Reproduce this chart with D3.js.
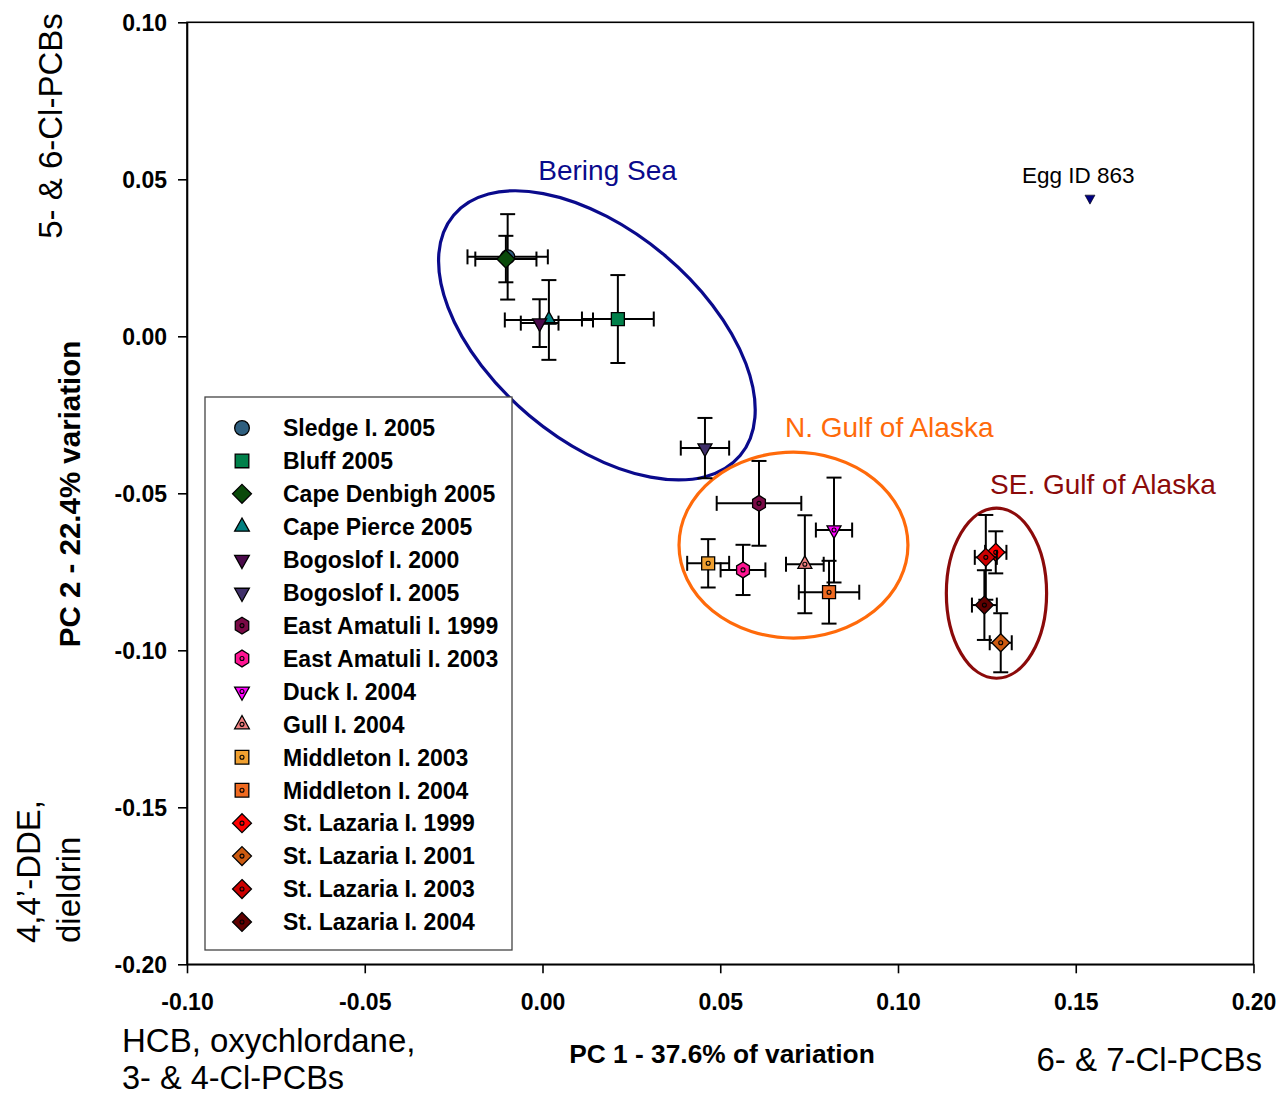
<!DOCTYPE html>
<html>
<head>
<meta charset="utf-8">
<script src="https://cdn.jsdelivr.net/npm/d3@7"></script>
<style>
  html, body { margin: 0; padding: 0; background: #fff; }
  svg { display: block; font-family: "Liberation Sans", Arial, sans-serif; }
</style>
</head>
<body>
<svg id="chart" width="1283" height="1097"></svg>
<script>
// ---- data: PCA scores (mean ± SE) per colony and year ----
const siteNames = [
  "Sledge I. 2005", "Bluff 2005", "Cape Denbigh 2005", "Cape Pierce 2005",
  "Bogoslof I. 2000", "Bogoslof I. 2005", "East Amatuli I. 1999", "East Amatuli I. 2003",
  "Duck I. 2004", "Gull I. 2004", "Middleton I. 2003", "Middleton I. 2004",
  "St. Lazaria I. 1999", "St. Lazaria I. 2001", "St. Lazaria I. 2003", "St. Lazaria I. 2004"
];
const pc1Mean = [-0.0098, 0.0212, -0.0103, 0.0018, -0.0008, 0.0457, 0.0609, 0.0564,
                 0.0820, 0.0738, 0.0466, 0.0806, 0.1275, 0.1289, 0.1247, 0.1243];
const pc2Mean = [0.0253, 0.0055, 0.0246, 0.0052, 0.0042, -0.0356, -0.0532, -0.0744,
                 -0.0617, -0.0726, -0.0723, -0.0815, -0.0688, -0.0976, -0.0704, -0.0856];
const pc1Err  = [0.0113, 0.0101, 0.0086, 0.0124, 0.0053, 0.0068, 0.0119, 0.0063,
                 0.0051, 0.0053, 0.0059, 0.0085, 0.0030, 0.0031, 0.0031, 0.0035];
const pc2Err  = [0.0136, 0.0140, 0.0074, 0.0127, 0.0076, 0.0096, 0.0135, 0.0080,
                 0.0167, 0.0156, 0.0077, 0.0100, 0.0067, 0.0094, 0.0135, 0.0111];

// single outlying egg
const outlierLabel = "Egg ID 863";
const outlierPC1 = 0.154;
const outlierPC2 = 0.044;

// regional groupings
const clusterNames = ["Bering Sea", "N. Gulf of Alaska", "SE. Gulf of Alaska"];
const clusterPC1 = [0.0153, 0.0706, 0.1277];
const clusterPC2 = [0.0003, -0.0665, -0.0818];
const clusterHalfPC1 = [0.0526, 0.0322, 0.0141];
const clusterHalfPC2 = [0.0334, 0.0296, 0.0271];
const clusterLabelPC1 = [0.0183, 0.0682, 0.1259];
const clusterLabelPC2 = [0.0498, -0.0321, -0.0502];

const xTicks = [-0.10, -0.05, 0.00, 0.05, 0.10, 0.15, 0.20];
const yTicks = [-0.20, -0.15, -0.10, -0.05, 0.00, 0.05, 0.10];

// ---- styles ----
const siteShapes = ["circle", "square", "diamond", "triUp", "triDown", "triDown", "hex", "hex",
                    "triDown", "triUp", "square", "square", "diamond", "diamond", "diamond", "diamond"];
const siteColors = ["#2f5f7f", "#00804a", "#0a4a0a", "#008080", "#4b0a4b", "#40306a", "#7a0a46", "#ff1493",
                    "#ff00ff", "#f08080", "#f0a030", "#f06a20", "#ff0000", "#cc5a10", "#cc0000", "#600000"];
const siteDotted = [false, false, false, false, false, false, true, true,
                    true, true, true, true, true, true, true, true];
const clusterColors = ["#0a0a8c", "#ff6a0a", "#8b0a0a"];
const clusterRotation = [40, 0, 0];

// ---- symbol paths (size = half-extent in px) ----
const shapes = {
  circle:  { draw(c, r) { c.moveTo(r, 0); c.arc(0, 0, r, 0, 2 * Math.PI); } },
  square:  { draw(c, r) { c.rect(-r, -r, 2 * r, 2 * r); } },
  diamond: { draw(c, r) { c.moveTo(0, -r); c.lineTo(r, 0); c.lineTo(0, r); c.lineTo(-r, 0); c.closePath(); } },
  triUp:   { draw(c, r) { const h = r * 1.8; c.moveTo(0, -h * 2 / 3); c.lineTo(r, h / 3); c.lineTo(-r, h / 3); c.closePath(); } },
  triDown: { draw(c, r) { const h = r * 1.8; c.moveTo(0, h * 2 / 3); c.lineTo(r, -h / 3); c.lineTo(-r, -h / 3); c.closePath(); } },
  hex:     { draw(c, r) { const w = r * 0.8; c.moveTo(0, -r); c.lineTo(w, -r / 2); c.lineTo(w, r / 2);
                          c.lineTo(0, r); c.lineTo(-w, r / 2); c.lineTo(-w, -r / 2); c.closePath(); } }
};
const shapeSize = { circle: 7, square: 6.5, diamond: 9, triUp: 7, triDown: 7, hex: 8 };

const svg = d3.select("#chart");

const x = d3.scaleLinear().domain([-0.10, 0.20]).range([187, 1253.5]);
const y = d3.scaleLinear().domain([-0.20, 0.10]).range([964.3, 22.3]);
const fmt = d => d.toFixed(2);

// plot frame
svg.append("rect")
  .attr("x", x.range()[0]).attr("y", y.range()[1])
  .attr("width", x.range()[1] - x.range()[0])
  .attr("height", y.range()[0] - y.range()[1])
  .attr("fill", "none").attr("stroke", "#000").attr("stroke-width", 1.6);

// axes
const xAxis = svg.append("g")
  .attr("transform", `translate(0,${y.range()[0]})`)
  .call(d3.axisBottom(x).tickValues(xTicks).tickFormat(fmt).tickSize(9).tickSizeOuter(0).tickPadding(20));
const yAxis = svg.append("g")
  .attr("transform", `translate(${x.range()[0]},0)`)
  .call(d3.axisLeft(y).tickValues(yTicks).tickFormat(fmt).tickSize(9).tickSizeOuter(0).tickPadding(11));
[xAxis, yAxis].forEach(g => {
  g.select(".domain").attr("stroke", "#000").attr("stroke-width", 1.6);
  g.selectAll(".tick line").attr("stroke", "#000").attr("stroke-width", 1.6);
  g.selectAll(".tick text").attr("fill", "#000")
    .style("font-family", "'Liberation Sans', Arial, sans-serif")
    .style("font-size", "23px").style("font-weight", "bold");
});
yAxis.selectAll(".tick text").attr("dy", "0.36em");

// cluster ellipses
const clusters = clusterNames.map((name, i) => ({
  name, cx: clusterPC1[i], cy: clusterPC2[i],
  hx: clusterHalfPC1[i], hy: clusterHalfPC2[i],
  rot: clusterRotation[i], color: clusterColors[i],
  lx: clusterLabelPC1[i], ly: clusterLabelPC2[i]
}));
svg.append("g").selectAll("ellipse").data(clusters).join("ellipse")
  .attr("transform", d => `translate(${x(d.cx)},${y(d.cy)}) rotate(${d.rot})`)
  .attr("rx", d => x(d.cx + d.hx) - x(d.cx))
  .attr("ry", d => y(d.cy - d.hy) - y(d.cy))
  .attr("fill", "none")
  .attr("stroke", d => d.color)
  .attr("stroke-width", 3.2);

svg.append("g").selectAll("text").data(clusters).join("text")
  .attr("x", d => x(d.lx)).attr("y", d => y(d.ly))
  .attr("text-anchor", (d, i) => i === 0 ? "middle" : "start")
  .attr("fill", d => d.color)
  .style("font-size", "28px")
  .text(d => d.name);

// sites: error bars then symbols
const sites = siteNames.map((name, i) => ({
  name, x: pc1Mean[i], y: pc2Mean[i], ex: pc1Err[i], ey: pc2Err[i],
  shape: siteShapes[i], color: siteColors[i], dotted: siteDotted[i]
}));
const cap = 7.5;
const marks = svg.append("g");
sites.forEach(d => {
  const g = marks.append("g");
  const px = x(d.x), py = y(d.y);
  const x0 = x(d.x - d.ex), x1 = x(d.x + d.ex);
  const y0 = y(d.y - d.ey), y1 = y(d.y + d.ey);
  const segs = [
    [x0, py, x1, py], [px, y0, px, y1],
    [x0, py - cap, x0, py + cap], [x1, py - cap, x1, py + cap],
    [px - cap, y0, px + cap, y0], [px - cap, y1, px + cap, y1]
  ];
  g.selectAll("line").data(segs).join("line")
    .attr("x1", s => s[0]).attr("y1", s => s[1]).attr("x2", s => s[2]).attr("y2", s => s[3])
    .attr("stroke", "#000").attr("stroke-width", 2);
  g.append("path")
    .attr("transform", `translate(${px},${py})`)
    .attr("d", d3.symbol().type(shapes[d.shape]).size(shapeSize[d.shape])())
    .attr("fill", d.color).attr("stroke", "#000").attr("stroke-width", 1.3);
  if (d.dotted) {
    g.append("circle").attr("cx", px).attr("cy", py).attr("r", 2)
      .attr("fill", "none").attr("stroke", "#000").attr("stroke-width", 1.1);
  }
});

// outlying egg
svg.append("path")
  .attr("transform", `translate(${x(outlierPC1)},${y(outlierPC2)})`)
  .attr("d", d3.symbol().type(shapes.triDown).size(5)())
  .attr("fill", "#000080").attr("stroke", "#000").attr("stroke-width", 0.6);
svg.append("text")
  .attr("x", x(outlierPC1) - 68).attr("y", y(outlierPC2) - 15)
  .style("font-size", "22.5px")
  .text(outlierLabel);

// legend
const legend = svg.append("g").attr("transform", "translate(205,397)");
legend.append("rect")
  .attr("width", 307).attr("height", 553)
  .attr("fill", "#fff").attr("stroke", "#444").attr("stroke-width", 1.3);
const rowStep = 32.93;
const rows = legend.selectAll("g.row").data(sites).join("g")
  .attr("class", "row")
  .attr("transform", (d, i) => `translate(0,${31 + i * rowStep})`);
rows.append("path")
  .attr("transform", "translate(37,0)")
  .attr("d", d => d3.symbol().type(shapes[d.shape]).size(shapeSize[d.shape] * 1.05)())
  .attr("fill", d => d.color).attr("stroke", "#000").attr("stroke-width", 1.3);
rows.filter(d => d.dotted).append("circle")
  .attr("cx", 37).attr("cy", 0).attr("r", 2)
  .attr("fill", "none").attr("stroke", "#000").attr("stroke-width", 1.1);
rows.append("text")
  .attr("x", 78).attr("dy", "0.36em")
  .style("font-size", "23px").style("font-weight", "bold")
  .text(d => d.name);

// axis titles
svg.append("text")
  .attr("x", 722).attr("y", 1063)
  .attr("text-anchor", "middle")
  .style("font-size", "26.3px").style("font-weight", "bold")
  .text("PC 1 - 37.6% of variation");
svg.append("text")
  .attr("transform", "translate(80,494) rotate(-90)")
  .attr("text-anchor", "middle")
  .style("font-size", "29.5px").style("font-weight", "bold")
  .text("PC 2 - 22.4% variation");

// loading descriptors at the ends of each axis
const cornerSize = "33px";
svg.append("text")
  .attr("transform", "translate(62,126) rotate(-90)")
  .attr("text-anchor", "middle")
  .style("font-size", cornerSize)
  .text("5- & 6-Cl-PCBs");
svg.append("text")
  .attr("transform", "translate(40,943) rotate(-90)")
  .style("font-size", cornerSize)
  .text("4,4’-DDE,");
svg.append("text")
  .attr("transform", "translate(80,943) rotate(-90)")
  .style("font-size", cornerSize)
  .text("dieldrin");
svg.append("text")
  .attr("x", 122).attr("y", 1052)
  .style("font-size", cornerSize)
  .text("HCB, oxychlordane,");
svg.append("text")
  .attr("x", 122).attr("y", 1089)
  .style("font-size", "32.5px")
  .text("3- & 4-Cl-PCBs");
svg.append("text")
  .attr("x", 1262).attr("y", 1071)
  .attr("text-anchor", "end")
  .style("font-size", cornerSize)
  .text("6- & 7-Cl-PCBs");
</script>
</body>
</html>
